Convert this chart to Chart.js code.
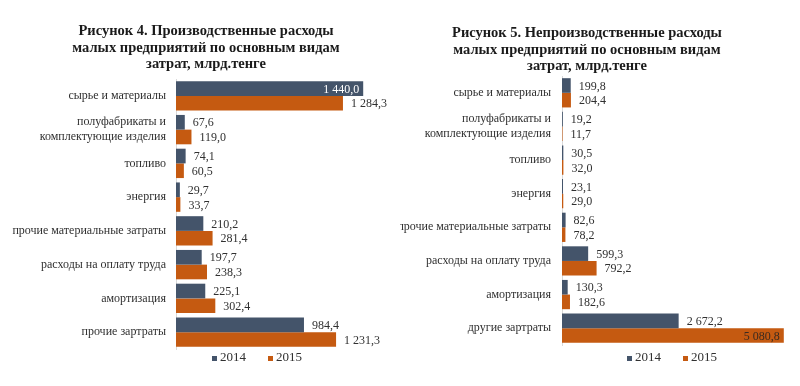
<!DOCTYPE html>
<html lang="ru">
<head>
<meta charset="UTF-8">
<title>Расходы малых предприятий</title>
<script src="https://cdn.jsdelivr.net/npm/chart.js"></script>
<style>
  body { margin: 0; background: #fff; }
  .wrap { position: absolute; top: 0; width: 400px; height: 386px; }
  .title {
    position: absolute; width: 320px; text-align: center;
    font: bold 14.5px 'Liberation Serif', serif; line-height: 16.5px; color: #1a1a1a;
  }
</style>
</head>
<body>
<div class="wrap" style="left:0"><canvas id="prodChart"></canvas></div>
<div class="wrap" style="left:400px"><canvas id="nonprodChart"></canvas></div>
<div class="title" style="left:46px; top:22px">Рисунок 4. Производственные расходы<br>малых предприятий по основным видам<br>затрат, млрд.тенге</div>
<div class="title" style="left:427px; top:24px">Рисунок 5. Непроизводственные расходы<br>малых предприятий по основным видам<br>затрат, млрд.тенге</div>
<script>
const years = ['2014', '2015'];

const prodCategories = ['сырье и материалы', ['полуфабрикаты и', 'комплектующие изделия'], 'топливо', 'энергия',
  'прочие материальные затраты', 'расходы на оплату труда', 'амортизация', 'прочие зартраты'];
const prod2014 = [1440.0, 67.6, 74.1, 29.7, 210.2, 197.7, 225.1, 984.4];
const prod2015 = [1284.3, 119.0, 60.5, 33.7, 281.4, 238.3, 302.4, 1231.3];

const nonprodCategories = ['сырье и материалы', ['полуфабрикаты и', 'комплектующие изделия'], 'топливо', 'энергия',
  'прочие материальные затраты', 'расходы на оплату труда', 'амортизация', 'другие зартраты'];
const nonprod2014 = [199.8, 19.2, 30.5, 23.1, 82.6, 599.3, 130.3, 2672.2];
const nonprod2015 = [204.4, 11.7, 32.0, 29.0, 78.2, 792.2, 182.6, 5080.8];

const colors = ['#44546A', '#C55A11'];
const textColor = '#303030';
const serif = "'Liberation Serif', 'Times New Roman', serif";

// 1440.0 -> "1 440,0"
function fmt(v) {
  const [i, d] = v.toFixed(1).split('.');
  return i.replace(/\B(?=(\d{3})+(?!\d))/g, ' ') + ',' + d;
}

// value labels at the end of each bar, pushed inside when they don't fit
const barLabels = {
  id: 'barLabels',
  afterDatasetsDraw(chart) {
    const ctx = chart.ctx;
    ctx.save();
    ctx.font = '12px ' + serif;
    ctx.textBaseline = 'middle';
    chart.data.datasets.forEach((ds, i) => {
      chart.getDatasetMeta(i).data.forEach((bar, j) => {
        const txt = fmt(ds.data[j]);
        const w = ctx.measureText(txt).width;
        if (bar.x + 8 + w > chart.width - 2) {
          ctx.textAlign = 'right';
          ctx.fillStyle = i === 0 ? '#ffffff' : '#3a2a20';
          ctx.fillText(txt, bar.x - 4, bar.y + 1);
        } else {
          ctx.textAlign = 'left';
          ctx.fillStyle = textColor;
          ctx.fillText(txt, bar.x + 8, bar.y + 1);
        }
      });
    });
    ctx.restore();
  }
};

// small square legend under the plot
const yearLegend = {
  id: 'yearLegend',
  afterDraw(chart, args, opts) {
    const ctx = chart.ctx;
    ctx.save();
    ctx.font = '13px ' + serif;
    ctx.textBaseline = 'middle';
    const items = chart.data.datasets.map(ds => ({ ds, w: 8 + ctx.measureText(ds.label).width }));
    const total = items.reduce((s, it) => s + it.w, 0) + opts.gap * (items.length - 1);
    let x = opts.centerX - total / 2;
    items.forEach(it => {
      ctx.fillStyle = it.ds.backgroundColor;
      ctx.fillRect(x, opts.y - 2, 5, 5);
      ctx.fillStyle = textColor;
      ctx.textAlign = 'left';
      ctx.fillText(it.ds.label, x + 8, opts.y);
      x += it.w + opts.gap;
    });
    ctx.restore();
  }
};

function makeChart(id, cats, d14, d15, o) {
  return new Chart(document.getElementById(id), {
    type: 'bar',
    data: {
      labels: cats,
      datasets: [
        { label: years[0], data: d14, backgroundColor: colors[0] },
        { label: years[1], data: d15, backgroundColor: colors[1] }
      ]
    },
    options: {
      indexAxis: 'y',
      responsive: true,
      maintainAspectRatio: false,
      animation: false,
      datasets: { bar: { categoryPercentage: 0.87, barPercentage: 1.0 } },
      layout: { padding: { left: 0, right: o.right, top: o.top, bottom: o.bottom } },
      scales: {
        x: { display: false, min: 0, max: o.xMax },
        y: {
          grid: { display: false, drawTicks: false },
          border: { color: '#d9d9d9' },
          ticks: {
            autoSkip: false, padding: o.tickPad, color: textColor,
            font: { family: serif, size: 12, lineHeight: 1.25 }
          },
          afterFit(scale) { scale.width = o.axisLeft; }
        }
      },
      plugins: {
        legend: { display: false },
        tooltip: { enabled: false },
        yearLegend: { centerX: o.legendX, y: 358, gap: 22 }
      }
    },
    plugins: [barLabels, yearLegend]
  });
}

makeChart('prodChart', prodCategories, prod2014, prod2015,
  { axisLeft: 176, xMax: 1600, right: 16, top: 79, bottom: 37, tickPad: 10, legendX: 257 });
makeChart('nonprodChart', nonprodCategories, nonprod2014, nonprod2015,
  { axisLeft: 162, xMax: 5200, right: 11, top: 76, bottom: 41, tickPad: 11, legendX: 272 });
</script>
</body>
</html>
